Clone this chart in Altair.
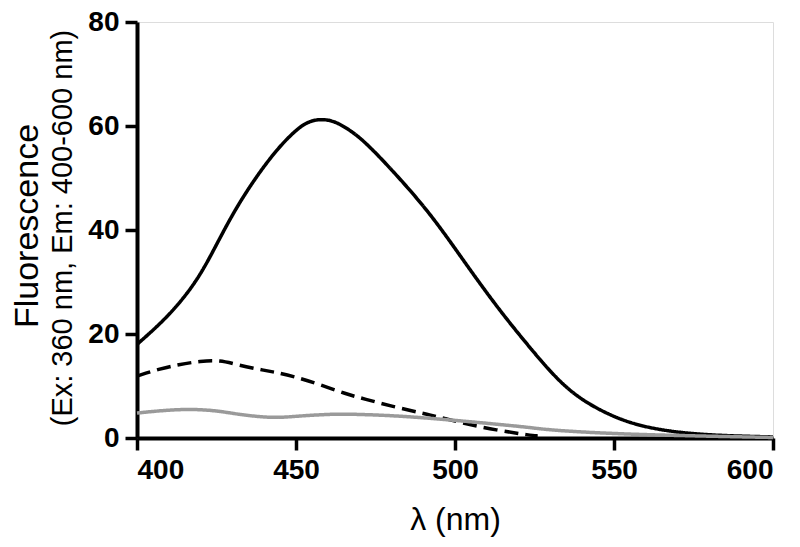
import altair as alt
import pandas as pd

# Solid black curve
solid_nm = [400, 410, 419, 425, 432, 442, 450, 455, 461, 466, 471, 480, 492, 502, 513, 524, 535, 546, 556, 567, 577, 587, 600]
solid_val = [18.0, 23.4, 30.2, 37.2, 45.3, 54.2, 59.4, 61.3, 61.3, 59.6, 57.4, 51.7, 43.4, 34.7, 25.3, 17.0, 9.2, 5.1, 2.6, 1.3, 0.7, 0.4, 0.2]

# Dashed black curve
dash_nm = [400, 407, 413, 420, 426, 432, 440, 444, 450, 457, 466, 471, 482, 492, 502, 513, 524, 526]
dash_val = [11.9, 13.3, 14.1, 14.8, 15.0, 14.0, 13.0, 12.6, 11.7, 10.4, 8.4, 7.6, 5.8, 4.5, 2.9, 1.5, 0.5, 0.4]

# Grey curve
grey_nm = [400, 413, 424, 432, 443, 450, 461, 467, 482, 502, 514, 524, 530, 550, 575, 600]
grey_val = [4.8, 5.6, 5.4, 4.5, 3.8, 4.2, 4.6, 4.6, 4.3, 3.3, 2.6, 2.0, 1.5, 0.8, 0.4, 0.1]

x_ticks = [400, 450, 500, 550, 600]
y_ticks = [0, 20, 40, 60, 80]

rows = []
for name, xs, ys in [("solid", solid_nm, solid_val), ("dashed", dash_nm, dash_val), ("grey", grey_nm, grey_val)]:
    for a, b in zip(xs, ys):
        rows.append({"series": name, "nm": a, "val": b})
df = pd.DataFrame(rows)

FONT = "Liberation Sans"

x = alt.X("nm:Q", scale=alt.Scale(domain=[400, 600], nice=False),
          axis=alt.Axis(values=x_ticks, title="λ (nm)", grid=False, format="d",
                        labelFont=FONT, labelFontSize=28, labelFontWeight="bold", labelColor="black",
                        labelPadding=6, titleFont=FONT, titleFontSize=32, titleFontWeight="normal",
                        titleColor="black", titlePadding=20,
                        domainColor="black", domainWidth=4, tickColor="black", tickWidth=3.5, tickSize=12))
y = alt.Y("val:Q", scale=alt.Scale(domain=[0, 80], nice=False),
          axis=alt.Axis(values=y_ticks, title=None, grid=False,
                        labelFont=FONT, labelFontSize=28, labelFontWeight="bold", labelColor="black",
                        labelPadding=6,
                        domainColor="black", domainWidth=4, tickColor="black", tickWidth=3.5, tickSize=12))

lines = alt.Chart(df).mark_line(strokeWidth=3.5, interpolate="basis", clip=False).encode(
    x=x, y=y,
    color=alt.Color("series:N", scale=alt.Scale(domain=["solid", "dashed", "grey"],
                                                range=["#000000", "#000000", "#9a9a9a"]), legend=None),
    strokeDash=alt.StrokeDash("series:N", scale=alt.Scale(domain=["solid", "dashed", "grey"],
                                                         range=[[1, 0], [14, 7], [1, 0]]), legend=None),
    detail="series:N",
)

title_df = pd.DataFrame({"t": ["Fluorescence"]})
t1 = alt.Chart(title_df).mark_text(angle=270, font=FONT, fontSize=34, color="black",
                                   align="center", baseline="middle").encode(
    text="t:N", x=alt.value(-109), y=alt.value(204))
title_df2 = pd.DataFrame({"t": ["(Ex: 360 nm, Em: 400-600 nm)"]})
t2 = alt.Chart(title_df2).mark_text(angle=270, font=FONT, fontSize=29, color="black",
                                    align="center", baseline="middle").encode(
    text="t:N", x=alt.value(-74), y=alt.value(206))

chart = alt.layer(lines, t1, t2).properties(
    width=636, height=416,
    autosize=alt.AutoSizeParams(type="none"),
    padding={"left": 129, "top": 14, "right": 10, "bottom": 101},
).configure_view(stroke=None).configure(background="white")

chart.save("out.html", embed_options={"renderer": "svg", "actions": False})
